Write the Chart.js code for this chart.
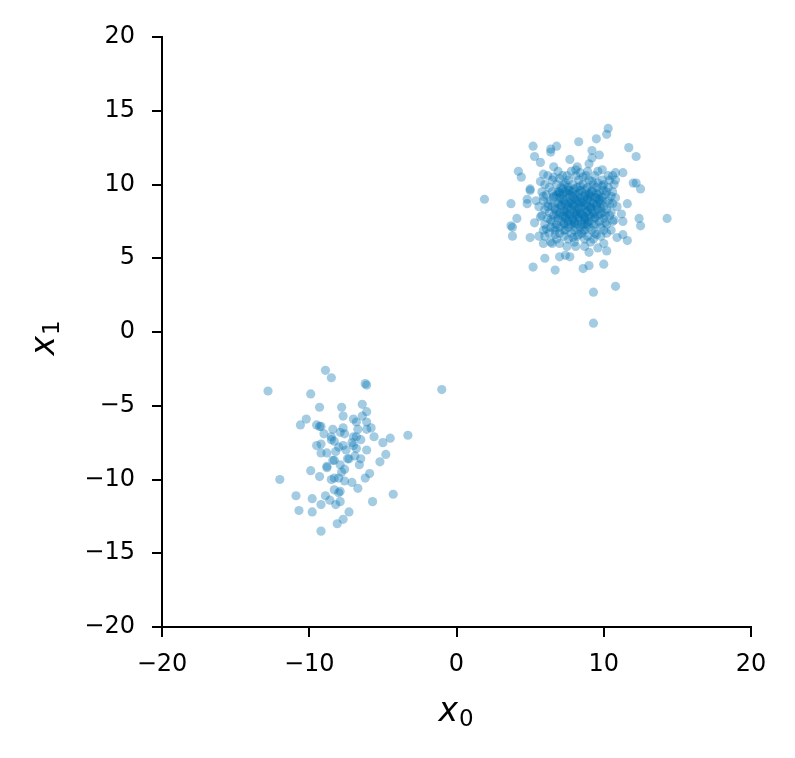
<!DOCTYPE html>
<html lang="en">
<head>
  <meta charset="UTF-8" />
  <title>Two blobs</title>
  <script src="https://cdn.jsdelivr.net/npm/chart.js"></script>
  <style>
    body { margin: 0; background: #fff; }
    #wrap { width: 795px; height: 758px; }
  </style>
</head>
<body>
  <div id="wrap"><canvas id="blobChart" width="795" height="758"></canvas></div>
  <script>
    // tick positions
    const xTicks = [-20, -10, 0, 10, 20];
    const yTicks = [-20, -15, -10, -5, 0, 5, 10, 15, 20];

    // upper right blob, outer points
    const upperOuter = [
      [10.3,13.8],[10.2,13.4],[9.5,13.1],[8.3,12.9],[5.2,12.6],[6.4,12.4],[6.8,12.6],[6.4,12.2],
      [5.3,11.9],[9.2,12.3],[9.7,12.0],[9.2,11.8],[11.7,12.5],[12.2,11.9],[5.7,11.5],[7.7,11.7],
      [6.6,11.2],[8.2,11.2],[9.0,11.4],[4.2,10.9],[4.4,10.5],[5.9,10.7],[8.1,11.0],[8.4,10.8],
      [9.9,11.0],[10.3,10.6],[10.8,10.8],[11.3,10.8],[10.8,10.3],[9.6,10.1],[12.0,10.1],[12.2,10.1],
      [12.5,9.7],[1.9,9.0],[3.7,8.7],[5.0,9.7],[5.0,9.6],[4.8,9.0],[4.1,7.7],[3.7,7.2],
      [3.8,7.1],[3.8,6.5],[5.0,6.4],[5.2,4.4],[6.0,5.0],[6.7,4.2],[7.0,5.1],[7.4,5.2],
      [7.7,5.1],[8.6,4.3],[9.0,4.5],[10.0,4.6],[10.2,5.5],[10.8,3.1],[9.3,2.7],[9.3,0.6],
      [14.3,7.7],[12.4,7.7],[12.5,7.2],[11.6,8.7],[11.2,8.0],[11.3,7.5],[11.6,6.2],[11.3,6.6],
      [10.9,6.4],[10.2,6.7],[10.0,6.0],[9.6,5.7],[9.0,5.4],[8.7,5.8],[8.1,5.8],[7.5,5.8],
      [7.0,6.0],[6.5,6.0],[5.9,6.0],[5.6,6.5],[5.3,7.4],[5.7,7.8],[4.8,8.7],[5.4,8.9],
      [5.7,10.2],[5.9,9.2],[6.2,8.5],[6.4,7.6],[6.1,7.0],[6.7,6.6],[7.3,6.9],[7.9,6.4],
      [8.7,6.9],[9.5,6.6],[10.1,7.4],[10.5,6.9],[10.7,7.6],[10.4,8.7],[10.2,9.5],[10.5,9.2],
      [9.9,9.9],[9.2,10.2],[8.6,10.5],[7.5,10.6],[7.0,10.4],[6.6,10.5],[7.4,10.1],[6.9,9.5],
      [7.7,9.6],[8.4,9.9],[9.0,9.4],[9.5,9.1],[7.0,8.8],[7.7,8.7],[8.4,8.8],[9.1,8.5],
      [9.8,8.4],[6.8,8.0],[7.5,7.9],[8.2,8.0],[8.7,7.8],[9.4,7.8],[10.1,7.9],[7.3,7.4],
      [8.1,7.1],[8.7,7.3],[9.5,7.3],[6.7,7.1],[8.3,6.6]
    ];

    // upper right blob, dense core
    const upperCore = [
      [6.9,10.9],[7.8,10.9],[8.9,10.9],[9.6,10.9],
      [6.2,10.6],[7.2,10.6],[8.1,10.6],[8.8,10.6],[9.4,10.6],[10.6,10.6],
      [6.5,10.3],[7.6,10.3],[8.3,10.3],[9.0,10.3],[9.9,10.3],[10.4,10.3],
      [6.0,10.0],[6.8,10.0],[7.3,10.0],[7.9,10.0],[8.6,10.0],[9.3,10.0],[10.0,10.0],[10.7,10.0],
      [6.3,9.8],[7.1,9.8],[7.6,9.8],[8.2,9.8],[8.9,9.8],[9.5,9.8],[10.3,9.8],
      [5.8,9.5],[6.5,9.5],[7.0,9.5],[7.4,9.5],[7.9,9.5],[8.5,9.5],[9.2,9.5],[9.7,9.5],[10.6,9.5],
      [6.1,9.3],[6.8,9.3],[7.2,9.3],[7.7,9.3],[8.1,9.3],[8.7,9.3],[9.0,9.3],[9.6,9.3],[10.1,9.3],
      [6.6,9.1],[7.0,9.1],[7.5,9.1],[8.0,9.1],[8.4,9.1],[8.9,9.1],[9.4,9.1],[9.9,9.1],[10.8,9.1],
      [5.9,8.9],[6.4,8.9],[7.3,8.9],[7.8,8.9],[8.2,8.9],[8.6,8.9],[9.1,8.9],[9.7,8.9],[10.3,8.9],
      [6.2,8.7],[6.9,8.7],[7.4,8.7],[7.9,8.7],[8.3,8.7],[8.8,8.7],[9.3,8.7],[9.8,8.7],[10.6,8.7],
      [5.6,8.5],[6.5,8.5],[7.1,8.5],[7.6,8.5],[8.0,8.5],[8.5,8.5],[8.9,8.5],[9.5,8.5],[10.0,8.5],[10.9,8.5],
      [6.0,8.3],[6.7,8.3],[7.3,8.3],[7.8,8.3],[8.2,8.3],[8.7,8.3],[9.2,8.3],[9.6,8.3],[10.2,8.3],
      [6.3,8.1],[7.0,8.1],[7.5,8.1],[8.0,8.1],[8.4,8.1],[8.8,8.1],[9.3,8.1],[9.9,8.1],[10.5,8.1],
      [5.8,7.9],[6.6,7.9],[7.2,7.9],[7.7,7.9],[8.1,7.9],[8.6,7.9],[9.0,7.9],[9.6,7.9],[10.4,7.9],
      [6.2,7.7],[6.9,7.7],[7.4,7.7],[7.9,7.7],[8.3,7.7],[8.8,7.7],[9.4,7.7],[10.0,7.7],
      [6.5,7.5],[7.1,7.5],[7.6,7.5],[8.0,7.5],[8.5,7.5],[9.0,7.5],[9.7,7.5],[10.6,7.5],
      [6.0,7.3],[6.8,7.3],[7.3,7.3],[7.8,7.3],[8.2,7.3],[8.9,7.3],[9.3,7.3],[10.2,7.3],
      [6.4,7.1],[7.0,7.1],[7.6,7.1],[8.4,7.1],[9.0,7.1],[9.8,7.1],
      [5.9,6.9],[6.7,6.9],[7.4,6.9],[8.0,6.9],[8.6,6.9],[9.2,6.9],[10.0,6.9],
      [6.3,6.7],[7.0,6.7],[7.8,6.7],[8.5,6.7],[9.4,6.7],
      [6.0,6.5],[7.3,6.5],[8.2,6.5],[8.9,6.5],[9.8,6.5],
      [6.8,6.3],[7.6,6.3],[8.7,6.3],[9.3,6.3],
      [6.4,6.1],[8.0,6.1],[9.1,6.1]
    ];

    // darkest middle of the upper blob
    const upperCenter = [
      [7.2,9.7],[7.6,9.6],[8.0,9.7],[8.4,9.6],[8.8,9.7],[9.2,9.6],
      [7.0,9.4],[7.5,9.4],[7.9,9.2],[8.3,9.4],[8.7,9.2],[9.1,9.2],[9.5,9.4],
      [7.2,9.0],[7.6,8.8],[8.1,9.0],[8.5,8.8],[8.9,9.0],[9.3,8.8],[9.7,9.0],
      [7.1,8.6],[7.5,8.4],[7.9,8.6],[8.3,8.4],[8.7,8.6],[9.1,8.4],[9.5,8.6],
      [7.3,8.2],[7.7,8.0],[8.1,8.2],[8.5,8.0],[8.9,8.2],[9.3,8.0],
      [7.4,7.8],[7.9,7.6],[8.3,7.8],[8.7,7.6],[9.1,7.8],
      [7.6,7.3],[8.0,7.4],[8.5,7.3],[8.9,7.4],
      [6.6,9.2],[6.7,8.4],[6.9,7.9],[9.9,8.9],[9.8,8.0],[10.0,9.6]
    ];

    // lower left blob
    const lowerBlob = [
      [-8.9,-2.6],[-8.5,-3.1],[-12.8,-4.0],[-9.9,-4.2],[-6.2,-3.5],[-6.1,-3.6],[-1.0,-3.9],[-9.3,-5.1],
      [-7.8,-5.1],[-6.4,-4.9],[-6.1,-5.4],[-10.2,-5.9],[-10.6,-6.3],[-7.7,-5.7],[-7.0,-5.9],[-6.4,-5.7],
      [-6.8,-6.1],[-6.1,-6.1],[-9.5,-6.3],[-9.3,-6.4],[-9.2,-6.4],[-9.0,-6.9],[-8.4,-6.6],[-7.9,-6.8],
      [-7.7,-6.5],[-7.6,-6.9],[-8.5,-7.1],[-8.5,-7.3],[-8.3,-7.4],[-7.0,-7.1],[-6.7,-6.6],[-6.1,-6.6],
      [-5.8,-6.5],[-5.6,-7.1],[-6.5,-7.3],[-6.8,-7.1],[-5.0,-7.5],[-4.5,-7.2],[-3.3,-7.0],[-9.5,-7.7],
      [-9.2,-7.6],[-9.2,-8.2],[-8.8,-8.2],[-8.2,-8.1],[-8.0,-7.8],[-7.7,-7.7],[-7.5,-8.0],[-7.1,-7.5],
      [-7.0,-7.7],[-6.8,-7.9],[-6.1,-8.0],[-4.8,-8.3],[-8.4,-8.7],[-8.3,-8.7],[-7.9,-9.0],[-7.4,-8.6],
      [-7.3,-8.6],[-6.9,-8.4],[-6.5,-8.6],[-6.6,-9.0],[-5.2,-8.8],[-9.9,-9.4],[-8.8,-9.2],[-8.8,-9.1],
      [-7.8,-9.5],[-7.6,-9.3],[-9.3,-9.8],[-8.5,-10.0],[-8.3,-9.9],[-8.0,-9.9],[-7.6,-10.1],[-7.1,-10.2],
      [-6.2,-9.9],[-5.9,-9.6],[-12.0,-10.0],[-6.7,-10.6],[-10.9,-11.1],[-9.8,-11.3],[-8.9,-11.1],[-8.6,-11.4],
      [-8.3,-10.7],[-8.0,-10.9],[-7.9,-10.8],[-7.9,-11.5],[-8.2,-11.7],[-9.2,-11.7],[-5.7,-11.5],[-4.3,-11.0],
      [-10.7,-12.1],[-9.8,-12.2],[-7.3,-12.2],[-7.7,-12.7],[-8.1,-13.0],[-9.2,-13.5]
    ];

    const allPoints = upperOuter.concat(upperCore, upperCenter, lowerBlob).map(p => ({ x: p[0], y: p[1] }));

    const FONT = "'DejaVu Sans', sans-serif";

    // matplotlib style minus sign
    const fmt = v => (v < 0 ? '\u2212' + Math.abs(v) : String(v));

    // x_0 / x_1 axis labels drawn like mathtext
    const axisLabels = {
      id: 'axisLabels',
      afterDraw(chart) {
        const ctx = chart.ctx;
        const drawLabel = (sub) => {
          ctx.font = "italic 33px " + FONT;
          const wx = ctx.measureText('x').width;
          ctx.font = "23px " + FONT;
          const ws = ctx.measureText(sub).width;
          const start = -(wx + ws + 1) / 2;
          ctx.textBaseline = 'alphabetic';
          ctx.textAlign = 'left';
          ctx.fillStyle = '#000';
          ctx.font = "italic 33px " + FONT;
          ctx.fillText('x', start, 0);
          ctx.font = "23px " + FONT;
          ctx.fillText(sub, start + wx + 1, 5);
        };
        ctx.save();
        ctx.translate(456, 721);
        drawLabel('0');
        ctx.restore();

        ctx.save();
        ctx.translate(54, 338);
        ctx.rotate(-Math.PI / 2);
        drawLabel('1');
        ctx.restore();
      }
    };

    const axisStyle = (ticks, pad) => ({
      type: 'linear',
      min: -20,
      max: 20,
      afterBuildTicks: (scale) => { scale.ticks = ticks.map(v => ({ value: v })); },
      border: { display: true, color: '#000', width: 2 },
      grid: { drawOnChartArea: false, drawTicks: true, tickLength: 10, color: '#000', lineWidth: 2 },
      ticks: {
        color: '#000',
        font: { family: FONT, size: 24 },
        padding: pad,
        maxRotation: 0,
        autoSkip: false,
        callback: (v) => fmt(v)
      }
    });

    const xAxis = axisStyle(xTicks, 13);
    xAxis.afterFit = (scale) => { scale.height = 131; };
    const yAxis = axisStyle(yTicks, 17);
    yAxis.afterFit = (scale) => { scale.width = 162; };

    new Chart(document.getElementById('blobChart'), {
      type: 'scatter',
      data: {
        datasets: [{
          data: allPoints,
          backgroundColor: 'rgba(1, 115, 178, 0.36)',
          borderWidth: 0,
          pointRadius: 4.6,
          pointHoverRadius: 4.6
        }]
      },
      options: {
        responsive: false,
        animation: false,
        devicePixelRatio: 1,
        layout: { padding: { top: 37, right: 44, left: 0, bottom: 0 } },
        plugins: { legend: { display: false }, tooltip: { enabled: false } },
        scales: { x: xAxis, y: yAxis }
      },
      plugins: [axisLabels]
    });
  </script>
</body>
</html>
